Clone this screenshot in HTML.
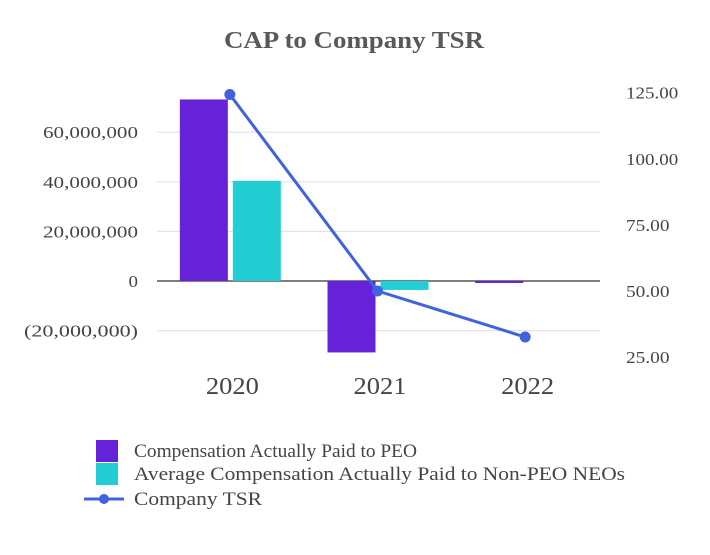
<!DOCTYPE html>
<html><head><meta charset="utf-8"><style>
html,body{margin:0;padding:0;background:#fff;}
svg, svg text{font-family:"Liberation Serif","DejaVu Serif",serif;}
</style></head><body>
<svg id="chart" width="710" height="550" font-family="Liberation Serif, serif">
<text x="224" y="48" font-size="24" font-weight="bold" fill="#595959" textLength="260" lengthAdjust="spacingAndGlyphs">CAP to Company TSR</text>
<g id="grid"></g><g id="bars"></g><g id="line"></g><g id="axes"></g>
<g>
<rect x="96" y="440" width="22" height="22" fill="#6622d8"/>
<text x="134" y="457" font-size="19" fill="#444" textLength="283" lengthAdjust="spacingAndGlyphs">Compensation Actually Paid to PEO</text>
<rect x="96" y="463" width="22" height="22" fill="#22cdd3"/>
<text x="134" y="480" font-size="19" fill="#444" textLength="491" lengthAdjust="spacingAndGlyphs">Average Compensation Actually Paid to Non-PEO NEOs</text>
<line x1="84" y1="499" x2="124" y2="499" stroke="#4062e0" stroke-width="3"/>
<circle cx="104" cy="499" r="5" fill="#4062e0"/>
<text x="134" y="505" font-size="19" fill="#444" textLength="128" lengthAdjust="spacingAndGlyphs">Company TSR</text>
</g>
</svg>
<script>
const categories=["2020","2021","2022"];
const peoValues=[73.2,-28.8,-0.8];
const neoValues=[40.4,-3.6,0];
const tsrValues=[124.3,50,32.6];
const leftTicks=[-20,0,20,40,60];
const leftTickLabels=["(20,000,000)","0","20,000,000","40,000,000","60,000,000"];
const rightTicks=[25,50,75,100,125];
const rightTickLabels=["25.00","50.00","75.00","100.00","125.00"];

const NS="http://www.w3.org/2000/svg";
const x0=157,x1=600,band=(x1-x0)/categories.length;
const yL=v=>281-v*2.48;
const yR=v=>291-(v-50)*2.645;
const cx=i=>x0+band*(i+0.5);
function mk(tag,attrs,parent){const e=document.createElementNS(NS,tag);for(const k in attrs)e.setAttribute(k,attrs[k]);document.getElementById(parent).appendChild(e);return e;}

leftTicks.forEach((t,i)=>{
  const g=mk("line",{x1:x0,x2:x1,y1:yL(t),y2:yL(t),stroke:t===0?"#555":"#e3e3e3","stroke-width":t===0?1.5:1.2},"grid");
  
  
  const s=leftTickLabels[i];
  const w=s.length*9.5;
  const l=mk("text",{x:138-w,y:yL(t)+6,"font-size":17,fill:"#444",textLength:w,lengthAdjust:"spacingAndGlyphs"},"axes");
  l.textContent=s;
  
  
});
rightTicks.forEach((t,i)=>{
  const s=rightTickLabels[i];
  const l=mk("text",{x:626,y:yR(t)+6,"font-size":17,fill:"#444",textLength:s.length*8.7,lengthAdjust:"spacingAndGlyphs"},"axes");
  l.textContent=s;
  
  
});
categories.forEach((c,i)=>{
  const l=mk("text",{x:cx(i)-25,y:394,"font-size":24,fill:"#444",textLength:53,lengthAdjust:"spacingAndGlyphs"},"axes");
  l.textContent=c;
  
  
  const p=peoValues[i],n=neoValues[i];
  const b1=mk("rect",{x:cx(i)-51,width:48,y:Math.min(yL(p),yL(0)),height:Math.abs(yL(p)-yL(0)),fill:"#6622d8"},"bars");
  
  
  const b2=mk("rect",{x:cx(i)+2,width:48,y:Math.min(yL(n),yL(0)),height:Math.abs(yL(n)-yL(0)),fill:"#22cdd3"},"bars");
  
  
});
const pl=mk("polyline",{points:tsrValues.map((v,i)=>(cx(i)-1)+","+yR(v)).join(" "),fill:"none",stroke:"#4062e0","stroke-width":3},"line");


tsrValues.forEach((v,i)=>{
  const d=mk("circle",{cx:cx(i)-1,cy:yR(v),r:5.5,fill:"#4062e0"},"line");
  
  
});
</script>
</body></html>
